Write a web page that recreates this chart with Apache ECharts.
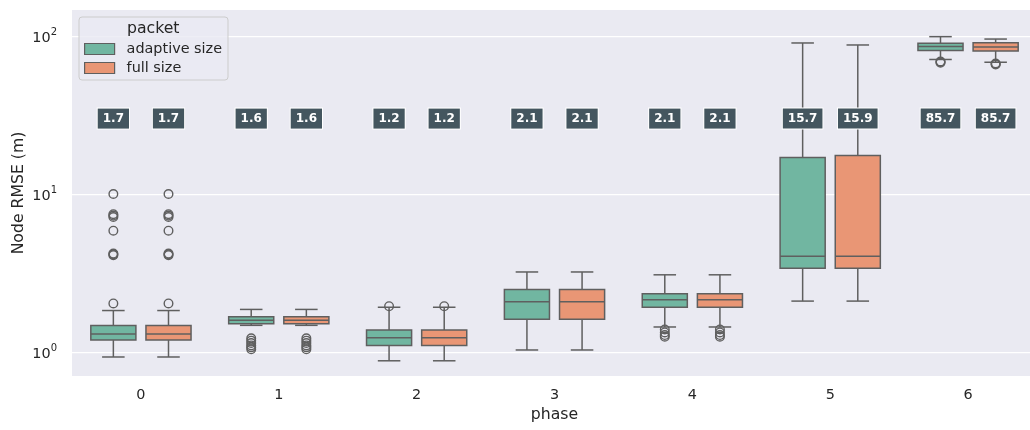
<!DOCTYPE html>
<html>
<head>
<meta charset="utf-8">
<script src="https://cdn.jsdelivr.net/npm/echarts@6/dist/echarts.min.js"></script>
<style>
  html, body { margin: 0; padding: 0; background: #ffffff; }
  #chart { width: 1030px; height: 430px; }
</style>
</head>
<body>
<div id="chart"></div>
<script>
// Phases on the x axis
const phases = ['0', '1', '2', '3', '4', '5', '6'];

// Box statistics per phase: [lower whisker, Q1, median, Q3, upper whisker] in metres
const adaptiveStats = [
  [0.93, 1.19, 1.30, 1.47, 1.83],
  [1.475, 1.51, 1.59, 1.67, 1.86],
  [0.88, 1.10, 1.23, 1.38, 1.92],
  [1.03, 1.61, 2.08, 2.49, 3.21],
  [1.44, 1.92, 2.14, 2.34, 3.08],
  [2.10, 3.39, 4.03, 17.0, 90.3],
  [71.0, 81.0, 85.7, 89.9, 99.0]
];
const fullStats = [
  [0.93, 1.19, 1.30, 1.47, 1.83],
  [1.475, 1.51, 1.59, 1.67, 1.86],
  [0.88, 1.10, 1.23, 1.38, 1.92],
  [1.03, 1.61, 2.08, 2.49, 3.21],
  [1.44, 1.92, 2.14, 2.34, 3.08],
  [2.10, 3.39, 4.03, 17.5, 87.7],
  [68.2, 80.3, 85.2, 90.5, 95.6]
];

// Outliers per phase
const adaptiveOutliers = [
  [2.03, 4.10, 4.15, 4.20, 5.86, 7.15, 7.30, 7.45, 10.0],
  [1.22, 1.18, 1.14, 1.10, 1.07, 1.04],
  [1.95],
  [],
  [1.39, 1.33, 1.28, 1.25],
  [],
  [69.0, 68.4, 67.8]
];
const fullOutliers = [
  [2.03, 4.10, 4.15, 4.20, 5.86, 7.15, 7.30, 7.45, 10.0],
  [1.22, 1.18, 1.14, 1.10, 1.07, 1.04],
  [1.95],
  [],
  [1.39, 1.33, 1.28, 1.25],
  [],
  [67.0, 66.5, 66.0]
];

// Mean RMSE per phase, printed in the badges
const adaptiveMeans = [1.7, 1.6, 1.2, 2.1, 2.1, 15.7, 85.7];
const fullMeans = [1.7, 1.6, 1.2, 2.1, 2.1, 15.9, 85.7];

// Powers of ten that get a grid line and a tick label
const yTicks = [1, 10, 100];

const seriesNames = ['adaptive size', 'full size'];

// Styling
const TEAL = '#71b6a1';
const ORANGE = '#e99675';
const LINE = '#5f5f5f';
const TEXT = '#262626';
const FONT = 'DejaVu Sans';
const BOX_W = 0.327;      // box width as a fraction of the category band
const HUE_OFFSET = 0.2;   // hue dodge as a fraction of the category band
const BADGE_Y = 30;       // vertical data position of the mean badges

function bandGeom(api, i) {
  const x0 = api.coord([0, 1])[0];
  const x1 = api.coord([1, 1])[0];
  const band = x1 - x0;
  return { band, center: api.coord([i, 1])[0] };
}

function boxSeries(name, stats, color, dir, withGrid) {
  const s = {
    type: 'custom',
    name,
    z: 3,
    silent: true,
    clip: false,
    data: stats.map((st, i) => [i].concat(st)),
    encode: { x: 0, y: [1, 2, 3, 4, 5] },
    itemStyle: { color },
    renderItem: (params, api) => {
      const i = api.value(0);
      const g = bandGeom(api, i);
      const cx = g.center + dir * HUE_OFFSET * g.band;
      const w = BOX_W * g.band;
      const y = [1, 2, 3, 4, 5].map(k => api.coord([i, api.value(k)])[1]);
      const [lo, q1, md, q3, hi] = y;
      const ls = { stroke: LINE, lineWidth: 1.5, fill: null };
      return {
        type: 'group',
        children: [
          { type: 'line', shape: { x1: cx, y1: q1, x2: cx, y2: lo }, style: ls },
          { type: 'line', shape: { x1: cx, y1: q3, x2: cx, y2: hi }, style: ls },
          { type: 'line', shape: { x1: cx - w / 4, y1: lo, x2: cx + w / 4, y2: lo }, style: ls },
          { type: 'line', shape: { x1: cx - w / 4, y1: hi, x2: cx + w / 4, y2: hi }, style: ls },
          { type: 'rect', shape: { x: cx - w / 2, y: q3, width: w, height: q1 - q3 },
            style: { fill: color, stroke: LINE, lineWidth: 1.5 } },
          { type: 'line', shape: { x1: cx - w / 2, y1: md, x2: cx + w / 2, y2: md }, style: ls }
        ]
      };
    }
  };
  if (withGrid) {
    s.markLine = {
      silent: true,
      symbol: 'none',
      z: 1,
      label: { show: false },
      emphasis: { disabled: true },
      lineStyle: { color: '#ffffff', width: 1.25, type: 'solid' },
      data: yTicks.map(v => ({ yAxis: v }))
    };
  }
  return s;
}

function outlierSeries(name, outliers, dir) {
  const data = [];
  outliers.forEach((arr, i) => arr.forEach(v => data.push([i, v])));
  return {
    type: 'custom',
    name,
    z: 4,
    silent: true,
    clip: false,
    data,
    encode: { x: 0, y: 1 },
    renderItem: (params, api) => {
      const i = api.value(0);
      const g = bandGeom(api, i);
      const cx = g.center + dir * HUE_OFFSET * g.band;
      const cy = api.coord([i, api.value(1)])[1];
      return {
        type: 'circle',
        shape: { cx, cy, r: 4.3 },
        style: { fill: null, stroke: LINE, lineWidth: 1.4 }
      };
    }
  };
}

function badgeSeries(name, means, dir) {
  return {
    type: 'custom',
    name,
    z: 6,
    silent: true,
    clip: false,
    data: means.map((m, i) => [i, m]),
    encode: { x: 0 },
    renderItem: (params, api) => {
      const i = api.value(0);
      const g = bandGeom(api, i);
      const cx = g.center + dir * HUE_OFFSET * g.band;
      const cy = api.coord([i, BADGE_Y])[1];
      return {
        type: 'text',
        x: cx,
        y: cy,
        style: {
          text: api.value(1).toFixed(1),
          fill: '#ffffff',
          font: 'bold 12px "' + FONT + '"',
          align: 'center',
          verticalAlign: 'middle',
          backgroundColor: '#44565f',
          borderColor: '#ffffff',
          borderWidth: 1,
          padding: [4, 5, 4, 5]
        }
      };
    }
  };
}

const chart = echarts.init(document.getElementById('chart'), null, { renderer: 'canvas' });

chart.setOption({
  animation: false,
  backgroundColor: '#ffffff',
  textStyle: { fontFamily: FONT, color: TEXT },
  grid: {
    left: 72, right: -7, top: 10, bottom: 54,
    outerBoundsMode: 'none',
    containLabel: false,
    show: true, backgroundColor: '#eaeaf2', borderWidth: 0
  },
  legend: {
    orient: 'vertical',
    left: 79, top: 17,
    padding: [25, 6, 5, 5],
    itemWidth: 30, itemHeight: 11, itemGap: 5,
    icon: 'rect',
    backgroundColor: 'rgba(234,234,242,0.8)',
    borderColor: '#cccccc', borderWidth: 1, borderRadius: 3,
    textStyle: { fontSize: 14.4, color: TEXT, fontFamily: FONT, padding: [0, 0, 0, 7] },
    data: [
      { name: seriesNames[0], itemStyle: { color: TEAL, borderColor: LINE, borderWidth: 1.2 } },
      { name: seriesNames[1], itemStyle: { color: ORANGE, borderColor: LINE, borderWidth: 1.2 } }
    ],
    selectedMode: false
  },
  graphic: [{
    type: 'text', left: 127, top: 21, z: 10,
    style: { text: 'packet', font: '15.7px "' + FONT + '"', fill: TEXT }
  }],
  xAxis: {
    type: 'category',
    data: phases,
    name: 'phase',
    nameLocation: 'middle',
    nameGap: 30,
    nameTextStyle: { fontSize: 15.7, color: TEXT },
    axisLine: { show: false },
    axisTick: { show: false },
    axisLabel: { fontSize: 14.4, color: TEXT, margin: 12 },
    splitLine: { show: false }
  },
  yAxis: {
    type: 'log',
    logBase: 10,
    min: 0.705,
    max: 146,
    name: 'Node RMSE (m)',
    nameLocation: 'middle',
    nameGap: 45,
    nameMoveOverlap: false,
    nameTextStyle: { fontSize: 15.7, color: TEXT },
    axisLine: { show: false },
    axisTick: { show: false },
    splitLine: { show: false },
    axisLabel: {
      margin: 15,
      color: TEXT,
      formatter: v => {
        const e = Math.log10(v);
        if (Math.abs(e - Math.round(e)) > 1e-6) return '';
        return '{b|10}{s|' + Math.round(e) + '}';
      },
      rich: {
        b: { fontSize: 14.4, lineHeight: 18, verticalAlign: 'bottom', color: TEXT, fontFamily: FONT },
        s: { fontSize: 10, lineHeight: 10, verticalAlign: 'top', color: TEXT, fontFamily: FONT }
      }
    }
  },
  series: [
    boxSeries(seriesNames[0], adaptiveStats, TEAL, -1, true),
    boxSeries(seriesNames[1], fullStats, ORANGE, 1, false),
    outlierSeries(seriesNames[0] + ' outliers', adaptiveOutliers, -1),
    outlierSeries(seriesNames[1] + ' outliers', fullOutliers, 1),
    badgeSeries(seriesNames[0] + ' mean', adaptiveMeans, -1),
    badgeSeries(seriesNames[1] + ' mean', fullMeans, 1)
  ]
});
</script>
</body>
</html>
